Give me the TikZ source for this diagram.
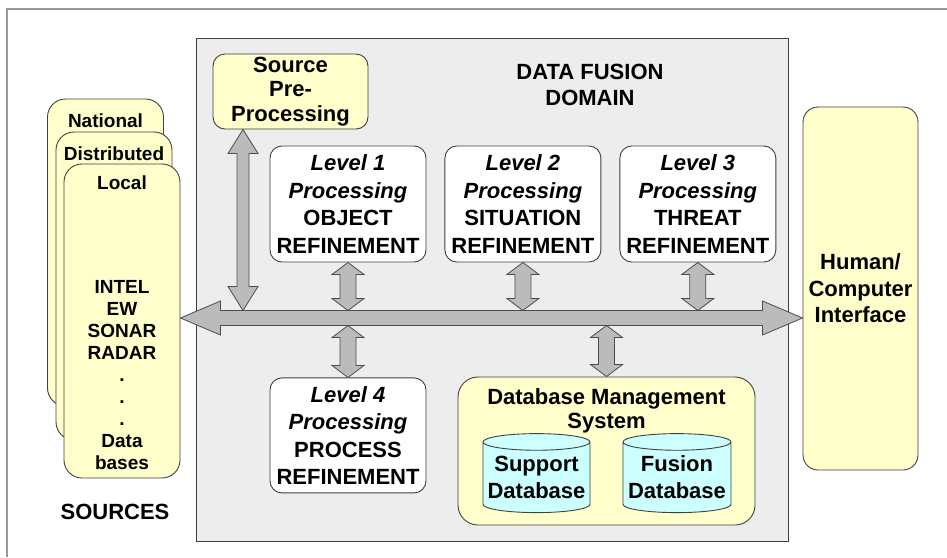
\documentclass[tikz,border=0pt]{standalone}
\usepackage{fontspec}
\setmainfont{Liberation Sans}
\usepackage{xcolor}
\usepackage{tikz}
\usetikzlibrary{positioning, shapes.geometric, calc}

\definecolor{paleyellow}{HTML}{FFFFCC}
\definecolor{palecyan}{HTML}{CCFFFF}
\definecolor{domaingray}{HTML}{EDEDED}
\definecolor{busgray}{HTML}{BBBBBB}

% fat double-headed arrows: from, to, shaft half width, head half width, head length
\newcommand{\vbiarrow}[5]{%
  \draw[fat] let \p1=(#1), \p2=(#2) in
    (\x1,\y1) -- (\x1+#4pt,\y1-#5pt) -- (\x1+#3pt,\y1-#5pt) -- (\x1+#3pt,\y2+#5pt)
    -- (\x1+#4pt,\y2+#5pt) -- (\x1,\y2) -- (\x1-#4pt,\y2+#5pt) -- (\x1-#3pt,\y2+#5pt)
    -- (\x1-#3pt,\y1-#5pt) -- (\x1-#4pt,\y1-#5pt) -- cycle;}
\newcommand{\hbiarrow}[5]{%
  \draw[fat] let \p1=(#1), \p2=(#2) in
    (\x1,\y1) -- (\x1+#5pt,\y1+#4pt) -- (\x1+#5pt,\y1+#3pt) -- (\x2-#5pt,\y1+#3pt)
    -- (\x2-#5pt,\y1+#4pt) -- (\x2,\y1) -- (\x2-#5pt,\y1-#4pt) -- (\x2-#5pt,\y1-#3pt)
    -- (\x1+#5pt,\y1-#3pt) -- (\x1+#5pt,\y1-#4pt) -- cycle;}

\begin{document}
\begin{tikzpicture}[x=1pt, y=-1pt,
  txt/.style={font=\bfseries\fontsize{22}{25}\selectfont, align=center, inner sep=0pt},
  box/.style={draw=black!75, line width=0.9pt, rounded corners=12pt, inner sep=0pt, txt},
  lvl/.style={box, fill=white, minimum width=156pt, minimum height=116pt,
    font=\bfseries\fontsize{22}{27.5}\selectfont},
  ylw/.style={box, fill=paleyellow},
  src/.style={ylw, rounded corners=18pt, minimum width=116pt},
  srctxt/.style={txt, font=\bfseries\fontsize{19}{22}\selectfont},
  db/.style={draw=black!75, line width=0.9pt, fill=palecyan, cylinder, shape border rotate=90,
    aspect=0.17, inner sep=0pt, minimum width=107pt, minimum height=79pt,
    font=\bfseries\fontsize{22}{27}\selectfont, align=center},
  fat/.style={draw=black!70, fill=busgray, line width=0.8pt, line join=miter}]

  \useasboundingbox (0,0) rectangle (947,557);
  \draw[gray!80, line width=2pt] (947,9) -- (7,9) -- (7,557);

  % sources
  \node[src, minimum height=307pt] (national) at (105.5,252.5) {};
  \node[srctxt] (natlbl) at (105.5,121) {National};
  \node[src, minimum height=308pt] (distrib) at (114,286) {};
  \node[srctxt] (distlbl) at (114,154) {Distributed};
  \node[src, minimum height=314pt] (local) at (122,321) {};
  \node[srctxt] (loclbl) at (122,183) {Local};
  \node[srctxt] (srclist) at (122,375) {INTEL\\EW\\SONAR\\RADAR\\.\\.\\.\\Data\\bases};
  \node[txt] (sources) at (115,512) {SOURCES};

  % data fusion domain
  \node[draw=black!75, line width=0.9pt, fill=domaingray, minimum width=592pt, minimum height=503pt,
    inner sep=0pt] (domain) at (492,289.5) {};
  \node[txt, font=\bfseries\fontsize{22}{26}\selectfont] (dftitle) at (590,85) {DATA FUSION\\DOMAIN};

  \node[ylw, minimum width=155pt, minimum height=75pt, font=\bfseries\fontsize{22}{24.5}\selectfont]
    (srcpre) at (290.5,91.5) {Source\\Pre-\\Processing};

  \node[lvl] (lvl1) at (348,204) {\textit{Level 1}\\\textit{Processing}\\OBJECT\\REFINEMENT};
  \node[lvl, right=18pt of lvl1] (lvl2) {\textit{Level 2}\\\textit{Processing}\\SITUATION\\REFINEMENT};
  \node[lvl, right=18pt of lvl2] (lvl3) {\textit{Level 3}\\\textit{Processing}\\THREAT\\REFINEMENT};
  \node[lvl, minimum height=115pt, below=115pt of lvl1] (lvl4)
    {\textit{Level 4}\\\textit{Processing}\\PROCESS\\REFINEMENT};

  \node[ylw, rounded corners=20pt, minimum width=297pt, minimum height=148pt] (dbms) at (606.5,451) {};
  \node[txt, font=\bfseries\fontsize{22}{24}\selectfont] (dbmslbl) at (606.5,411) {Database Management\\System};
  \node[db] (supdb) at (536.5,477.5) {Support\\Database};
  \node[db, minimum width=108pt] (fusdb) at (677,477.5) {Fusion\\Database};

  \node[ylw, rounded corners=15pt, minimum width=115pt, minimum height=363pt,
    font=\bfseries\fontsize{22}{26.5}\selectfont] (hci) at (860.5,288.5) {Human/\\Computer\\Interface};

  % bus and links
  \coordinate (busL) at (local.east |- 0,318);
  \coordinate (busR) at (hci.west |- busL);
  \coordinate (bustop) at (0,310.5);
  \coordinate (busbot) at (0,325.5);
  \coordinate (spfoot) at ([xshift=-47.5pt]srcpre.south);

  \hbiarrow{busL}{busR}{7.5}{17}{40}
  \vbiarrow{spfoot}{spfoot |- bustop}{6}{15}{24}
  \vbiarrow{lvl1.south}{lvl1.south |- bustop}{8}{16}{12}
  \vbiarrow{lvl2.south}{lvl2.south |- bustop}{8}{16}{12}
  \vbiarrow{lvl3.south}{lvl3.south |- bustop}{8}{16}{12}
  \vbiarrow{lvl4.north |- busbot}{lvl4.north}{8}{16}{12}
  \vbiarrow{dbms.north |- busbot}{dbms.north}{8}{16}{12}
\end{tikzpicture}
\end{document}
